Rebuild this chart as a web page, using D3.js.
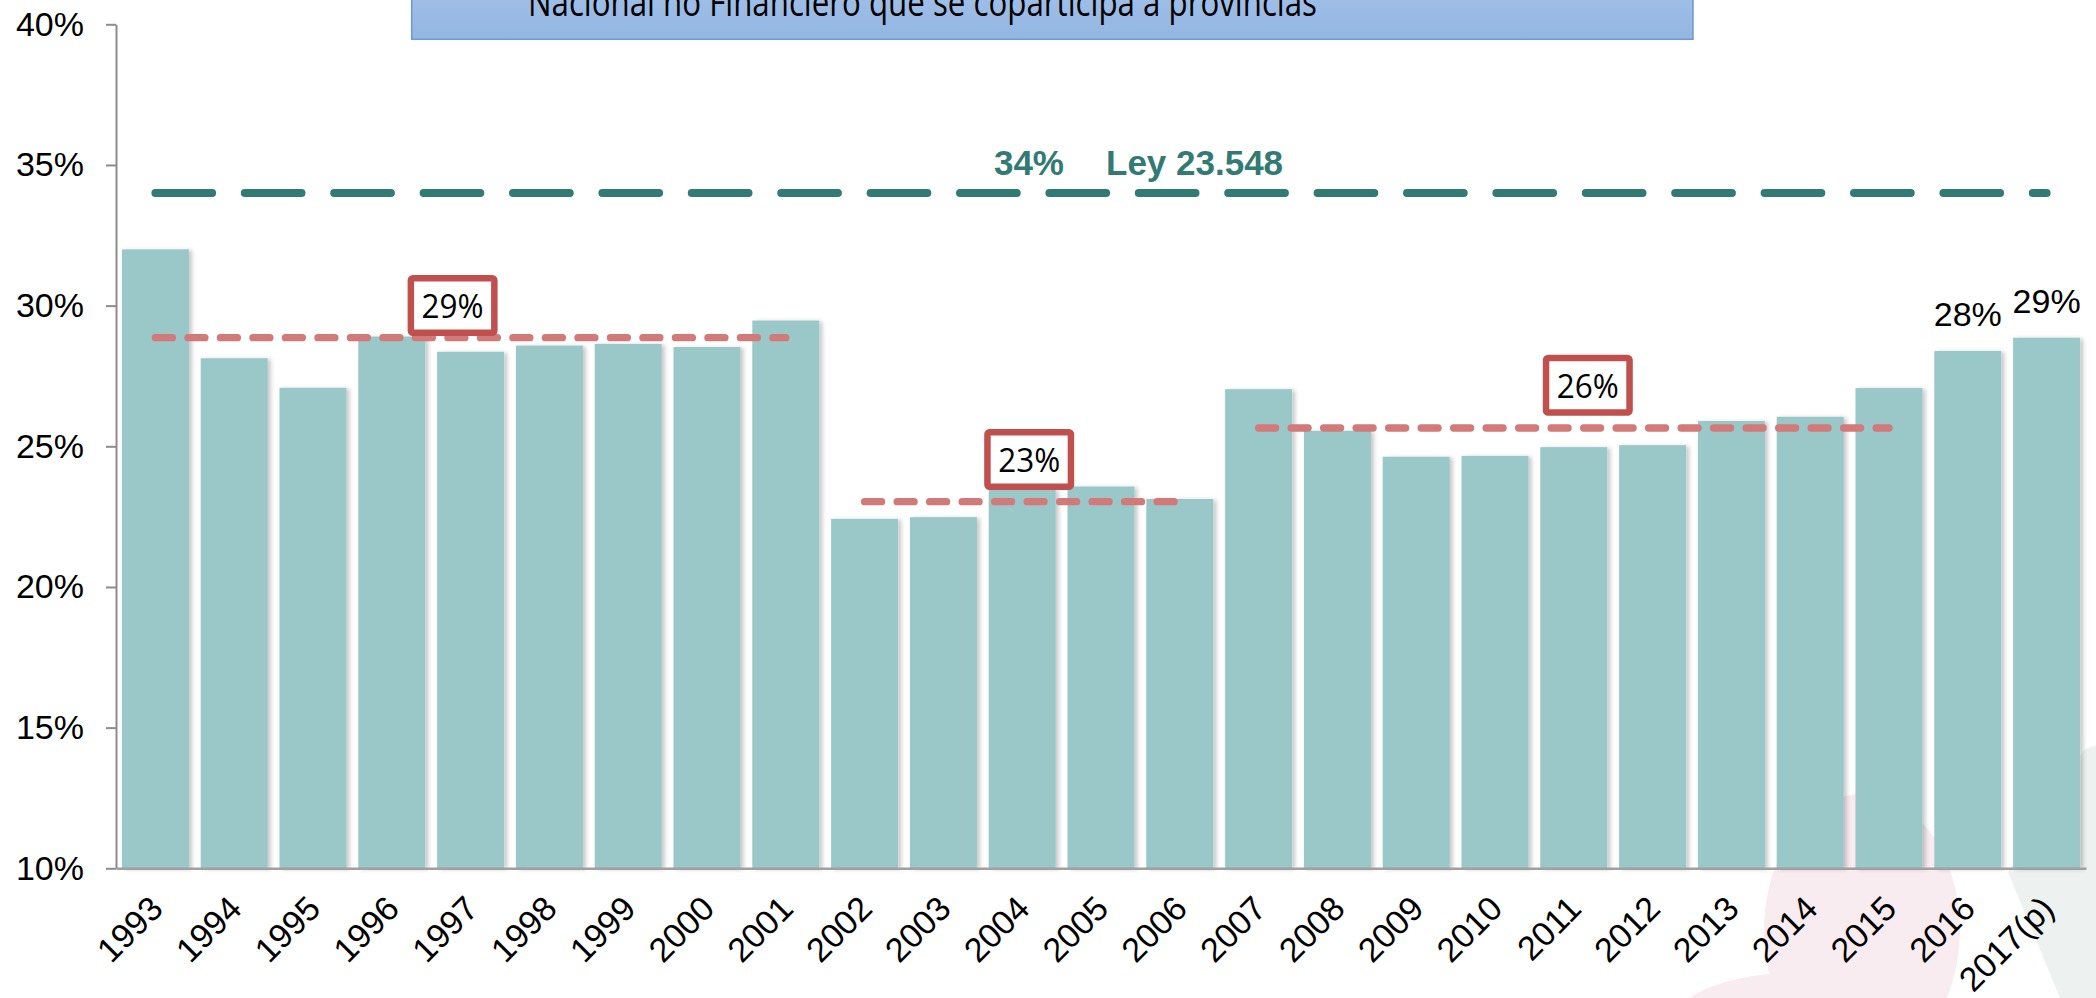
<!DOCTYPE html>
<html>
<head>
<meta charset="utf-8">
<script src="https://cdn.jsdelivr.net/npm/d3@7"></script>
<style>
  body { margin: 0; background: #ffffff; }
  svg { display: block; }
</style>
</head>
<body>
<svg id="chart" width="2096" height="998"></svg>
<script>
// ---------------- DATA ----------------
const title = "Nacional no Financiero que se coparticipa a provincias";
const years = ["1993","1994","1995","1996","1997","1998","1999","2000","2001","2002","2003","2004",
               "2005","2006","2007","2008","2009","2010","2011","2012","2013","2014","2015","2016","2017(p)"];
const shares = [32.0, 28.13, 27.08, 28.90, 28.36, 28.58, 28.64, 28.53, 29.47, 22.42, 22.48, 23.47,
                23.57, 23.13, 27.03, 25.55, 24.63, 24.66, 24.97, 25.04, 25.90, 26.05, 27.07, 28.39, 28.86];
const yTicks = [10, 15, 20, 25, 30, 35, 40];
const legalShare = 34;
const legalLabels = ["34%", "Ley 23.548"];
const periodFrom = ["1993", "2002", "2007"];
const periodTo = ["2001", "2006", "2015"];
const periodValues = [28.86, 23.03, 25.65];
const periodLabels = ["29%", "23%", "26%"];
const endLabelYears = ["2016", "2017(p)"];
const endLabels = ["28%", "29%"];

// ---------------- LAYOUT ----------------
const plot = { left: 116, right: 2086, top: 24.3, bottom: 868.3 };
const boxNudge = [-18, 7, 14];        // horizontal nudge of each average box from its line centre
const boxLift = [1.7, 11.7, 12.3];    // gap between box bottom and its dashed line
const boxW = 90, boxH = 61;
const teal = "#327A74", bar = "#9AC7C7", redLine = "#D27A7A", redBox = "#C0504D";

const svg = d3.select("#chart");
const defs = svg.append("defs");
const sh = defs.append("filter").attr("id", "shadow").attr("x", "-20%").attr("y", "-5%").attr("width", "140%").attr("height", "110%");
sh.append("feDropShadow").attr("dx", 3).attr("dy", 1).attr("stdDeviation", 2.2)
  .attr("flood-color", "#000").attr("flood-opacity", 0.22);
const tg = defs.append("linearGradient").attr("id", "titleGrad").attr("x1", 0).attr("y1", 0).attr("x2", 0).attr("y2", 1);
tg.append("stop").attr("offset", "0%").attr("stop-color", "#A6C3EA");
tg.append("stop").attr("offset", "100%").attr("stop-color", "#93B6E2");

// background decorations (faint slide artwork)
const deco = svg.append("g");
deco.append("path").attr("d", "M2096,745 L2084,750 L2008,872 L2060,998 L2096,998 Z").attr("fill", "#EDF2F0");
deco.append("ellipse").attr("cx", 1862).attr("cy", 930).attr("rx", 98).attr("ry", 136).attr("fill", "#F9ECF1");
deco.append("path").attr("d", "M1690,998 C1720,975 1800,965 1880,975 C1910,980 1935,990 1945,998 Z").attr("fill", "#F9ECF1");

// scales
const x = d3.scaleBand().domain(years).range([plot.left, plot.right]).paddingInner(0.15).paddingOuter(0.075);
const y = d3.scaleLinear().domain([10, 40]).range([plot.bottom, plot.top]);
const cx = d => x(d) + x.bandwidth() / 2;

// title box (partly cut off at top, as in the source slide)
svg.append("rect").attr("x", 411.7).attr("y", -30).attr("width", 1693 - 411.7).attr("height", 69.3)
  .attr("fill", "url(#titleGrad)").attr("stroke", "#6C9BD2").attr("stroke-width", 1.5);
svg.append("text").attr("x", 528).attr("y", 16)
  .attr("font-family", "'Open Sans', sans-serif").attr("font-size", 38)
  .attr("textLength", 789).attr("lengthAdjust", "spacingAndGlyphs")
  .attr("fill", "#000").text(title);

// bars
svg.append("g").attr("filter", "url(#shadow)")
  .selectAll("rect").data(years).join("rect")
  .attr("x", d => x(d))
  .attr("y", (d, i) => y(shares[i]))
  .attr("width", x.bandwidth())
  .attr("height", (d, i) => y(10) - y(shares[i]))
  .attr("fill", bar);

// y axis
const yAxis = svg.append("g").attr("transform", `translate(${plot.left},0)`)
  .call(d3.axisLeft(y).tickValues(yTicks).tickFormat(d => d + "%").tickSize(10).tickSizeOuter(0).tickPadding(22));
yAxis.select(".domain").attr("stroke", "#8C8C8C").attr("stroke-width", 2);
yAxis.selectAll(".tick line").attr("stroke", "#8C8C8C").attr("stroke-width", 2);
yAxis.selectAll(".tick text").attr("font-family", "'Liberation Sans', Arial, sans-serif")
  .attr("font-size", 34).attr("fill", "#000");

// x axis
const xAxis = svg.append("g").attr("transform", `translate(0,${plot.bottom})`)
  .call(d3.axisBottom(x).tickSize(0).tickSizeOuter(0));
xAxis.select(".domain").attr("stroke", "#A0A0A0").attr("stroke-width", 2.5);
xAxis.selectAll(".tick text")
  .attr("font-family", "'Liberation Sans', Arial, sans-serif").attr("font-size", 34).attr("fill", "#000")
  .attr("x", 0).attr("y", 0).attr("dy", "0.35em")
  .attr("text-anchor", "end")
  .attr("transform", "translate(1,34) rotate(-45)");

// legal share line (34%)
svg.append("line")
  .attr("x1", cx(years[0])).attr("x2", cx(years[years.length - 1]))
  .attr("y1", y(legalShare)).attr("y2", y(legalShare))
  .attr("stroke", teal).attr("stroke-width", 8).attr("stroke-linecap", "round")
  .attr("stroke-dasharray", "56.7 32.7");
const lx = cx("2005") - 16;
svg.append("text").attr("x", lx - 21).attr("y", y(legalShare) - 18).attr("text-anchor", "end")
  .attr("font-family", "'Liberation Sans', Arial, sans-serif").attr("font-weight", "bold")
  .attr("font-size", 35).attr("fill", teal).text(legalLabels[0]);
svg.append("text").attr("x", lx + 21).attr("y", y(legalShare) - 18).attr("text-anchor", "start")
  .attr("font-family", "'Liberation Sans', Arial, sans-serif").attr("font-weight", "bold")
  .attr("font-size", 35).attr("fill", teal).text(legalLabels[1]);

// period average lines
svg.append("g").selectAll("line").data(periodValues).join("line")
  .attr("x1", (d, i) => cx(periodFrom[i])).attr("x2", (d, i) => cx(periodTo[i]))
  .attr("y1", d => y(d)).attr("y2", d => y(d))
  .attr("stroke", redLine).attr("stroke-width", 7.3).attr("stroke-linecap", "round")
  .attr("stroke-dasharray", "17 15.5");

// period average boxes
const boxes = svg.append("g").selectAll("g").data(periodValues).join("g")
  .attr("transform", (d, i) => {
    const mx = (cx(periodFrom[i]) + cx(periodTo[i])) / 2 + boxNudge[i];
    const by = y(d) - boxLift[i];
    return `translate(${mx},${by - boxH / 2})`;
  });
boxes.append("rect")
  .attr("x", -boxW / 2 + 3.25).attr("y", -boxH / 2 + 3.25)
  .attr("width", boxW - 6.5).attr("height", boxH - 6.5).attr("rx", 2)
  .attr("fill", "#fff").attr("stroke", redBox).attr("stroke-width", 6.5);
boxes.append("text").attr("x", 0).attr("y", 12.5).attr("text-anchor", "middle")
  .attr("font-family", "'Open Sans', sans-serif").attr("font-size", 32)
  .attr("textLength", 62).attr("lengthAdjust", "spacingAndGlyphs").attr("fill", "#000")
  .text((d, i) => periodLabels[i]);

// end data labels
svg.append("g").selectAll("text").data(endLabelYears).join("text")
  .attr("x", d => cx(d))
  .attr("y", d => y(shares[years.indexOf(d)]) - 24.5)
  .attr("text-anchor", "middle")
  .attr("font-family", "'Liberation Sans', Arial, sans-serif").attr("font-size", 34).attr("fill", "#000")
  .text((d, i) => endLabels[i]);
</script>
</body>
</html>
